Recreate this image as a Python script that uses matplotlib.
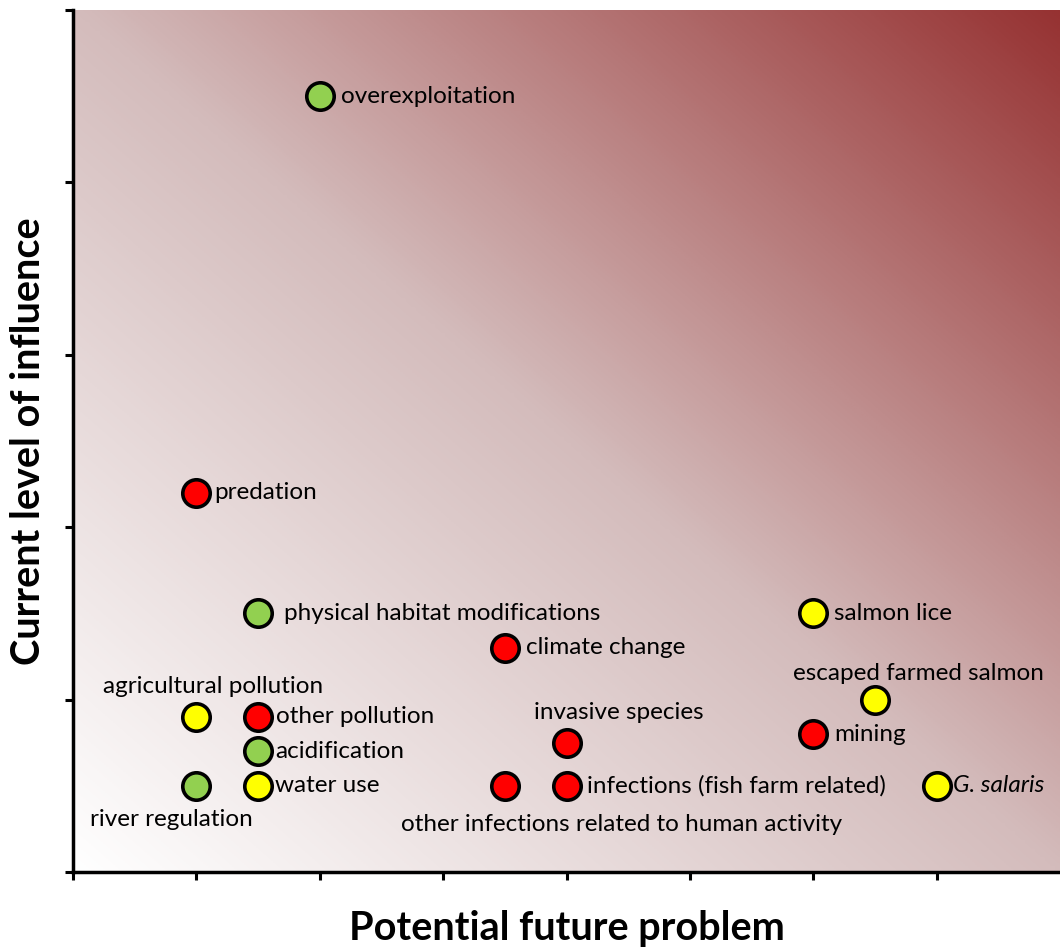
import numpy as np
import matplotlib.pyplot as plt
from matplotlib.colors import LinearSegmentedColormap

plt.rcParams['font.family'] = ['Lato', 'DejaVu Sans']

names = ['overexploitation', 'predation', 'physical habitat modifications',
         'climate change', 'salmon lice', 'escaped farmed salmon', 'mining',
         'invasive species', 'agricultural pollution', 'other pollution',
         'acidification', 'water use', 'river regulation',
         'other infections related to human activity',
         'infections (fish farm related)', 'G. salaris']
xval = [2, 1, 1.5, 3.5, 6, 6.5, 6, 4, 1, 1.5, 1.5, 1.5, 1, 3.5, 4, 7]
yval = [4.5, 2.2, 1.5, 1.3, 1.5, 1.0, 0.8, 0.75, 0.9, 0.9, 0.7, 0.5, 0.5, 0.5, 0.5, 0.5]
group = ['g', 'r', 'g', 'r', 'y', 'y', 'r', 'r', 'y', 'r', 'g', 'y', 'g', 'r', 'r', 'y']

colmap = {'r': '#FF0000', 'y': '#FFFF00', 'g': '#92D050'}

# label offsets in points (dx, dy, ha)
offs = {
    'escaped farmed salmon': (31, 19, 'center'),
    'invasive species': (38, 22, 'center'),
    'agricultural pollution': (12, 22, 'center'),
    'river regulation': (-18, -24, 'center'),
    'other infections related to human activity': (84, -28, 'center'),
    'physical habitat modifications': (19, 0, 'left'),
    'acidification': (12, 0, 'left'),
    'water use': (12, 0, 'left'),
    'G. salaris': (12, 0, 'left'),
    'predation': (13, 0, 'left'),
    'other pollution': (13, 0, 'left'),
}

fig = plt.figure(figsize=(10.6, 9.5), dpi=100)
ax = fig.add_axes([0.0689, 0.0821, 0.9311, 0.9074])

# diagonal background gradient
nx, ny = 400, 400
u = np.linspace(0, 1, nx)
v = np.linspace(0, 1, ny)
U, V = np.meshgrid(u, v)
T = (U + V) / 2
cmap = LinearSegmentedColormap.from_list('bg', [(0, (1, 1, 1)),
                                                (0.5, (212/255, 188/255, 188/255)),
                                                (1, (150/255, 50/255, 50/255))])
ax.imshow(T, cmap=cmap, extent=[0, 8, 0, 5], origin='lower', aspect='auto',
          interpolation='bilinear', zorder=0, vmin=0, vmax=1)

for i in range(len(names)):
    ax.scatter(xval[i], yval[i], s=390, c=colmap[group[i]], edgecolors='black',
               linewidths=2.6, zorder=3)
    if names[i] in offs:
        dx, dy, ha = offs[names[i]]
    else:
        dx, dy, ha = (15, 0, 'left')
    style = 'italic' if names[i] == 'G. salaris' else 'normal'
    ax.annotate(names[i], (xval[i], yval[i]), xytext=(dx, dy),
                textcoords='offset points', ha=ha, va='center',
                fontsize=17.5, style=style, zorder=4)

ax.set_xlim(0, 8)
ax.set_ylim(0, 5)
ax.set_xticks(np.arange(0, 8))
ax.set_yticks(np.arange(0, 6))
ax.set_xticklabels([])
ax.set_yticklabels([])
ax.tick_params(direction='out', length=6, width=2.2)
for s in ['top', 'right']:
    ax.spines[s].set_visible(False)
for s in ['left', 'bottom']:
    ax.spines[s].set_linewidth(2.5)
    ax.spines[s].set_zorder(5)

ax.set_xlabel('Potential future problem', fontsize=28.5, fontweight='bold', labelpad=18)
ax.set_ylabel('Current level of influence', fontsize=28.5, fontweight='bold', labelpad=9)

plt.savefig('out.png')
